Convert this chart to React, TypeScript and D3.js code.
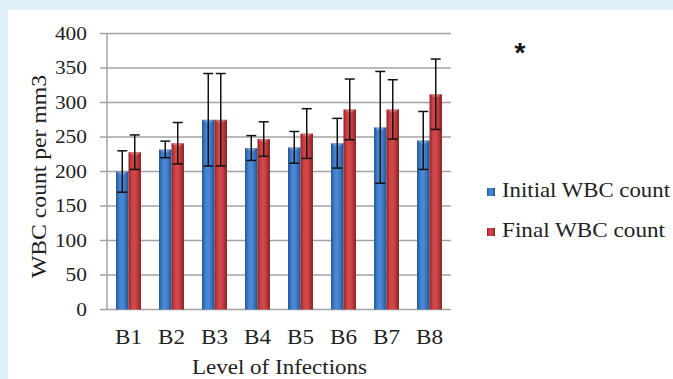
import React, { useEffect, useRef } from "react";
import * as d3 from "d3";

// values
const categories = ["B1", "B2", "B3", "B4", "B5", "B6", "B7", "B8"];
const initialWbc = [200, 232, 275, 234, 235, 241, 264, 245];
const initialErr = [30, 12, 67, 18, 23, 36, 81, 42];
const finalWbc = [228, 241, 275, 247, 255, 290, 290, 312];
const finalErr = [25, 30, 67, 25, 36, 44, 43, 51];
const yTicks = [0, 50, 100, 150, 200, 250, 300, 350, 400];
const seriesNames = ["Initial WBC count", "Final WBC count"];

const FONT = "'Liberation Serif', 'Times New Roman', serif";

export default function App() {
  const svgRef = useRef<SVGSVGElement>(null);

  useEffect(() => {
    const width = 673;
    const height = 379;
    const svg = d3.select(svgRef.current);
    svg.selectAll("*").remove();
    svg.attr("width", width).attr("height", height);

    const defs = svg.append("defs");
    const grad = (id: string, stops: string[]) => {
      const g = defs
        .append("linearGradient")
        .attr("id", id)
        .attr("x1", "0%")
        .attr("x2", "100%")
        .attr("y1", "0%")
        .attr("y2", "0%");
      stops.forEach((c, i) =>
        g
          .append("stop")
          .attr("offset", `${(i / (stops.length - 1)) * 100}%`)
          .attr("stop-color", c)
      );
    };
    grad("blueGrad", ["#24518f", "#3f7fcc", "#4a8bd6", "#3a74be", "#22508c"]);
    grad("redGrad", ["#8a2426", "#cc4044", "#d24a4c", "#b93739", "#822122"]);

    // page background
    svg.append("rect").attr("width", width).attr("height", height).attr("fill", "#dff0fb");
    svg
      .append("rect")
      .attr("x", 8)
      .attr("y", 10)
      .attr("width", width - 8)
      .attr("height", height - 10)
      .attr("fill", "#ffffff");

    const left = 107;
    const right = 451;
    const y = d3.scaleLinear().domain([0, 400]).range([309.5, 33.5]);
    const x0 = d3
      .scaleBand()
      .domain(categories)
      .range([left, right])
      .paddingInner(0.42)
      .paddingOuter(0.21);
    const x1 = d3
      .scaleBand()
      .domain(["initial", "final"])
      .range([0, x0.bandwidth()]);

    // gridlines
    svg
      .append("g")
      .selectAll("line")
      .data(yTicks)
      .join("line")
      .attr("x1", 100)
      .attr("x2", right)
      .attr("y1", (d) => y(d))
      .attr("y2", (d) => y(d))
      .attr("stroke", "#a3a3a3")
      .attr("stroke-width", 1.5);

    svg
      .append("line")
      .attr("x1", left)
      .attr("x2", left)
      .attr("y1", y(400))
      .attr("y2", y(0))
      .attr("stroke", "#a3a3a3")
      .attr("stroke-width", 1.5);

    // y tick labels
    svg
      .append("g")
      .selectAll("text")
      .data(yTicks)
      .join("text")
      .attr("x", 87)
      .attr("y", (d) => y(d) + 6)
      .attr("text-anchor", "end")
      .attr("font-family", FONT)
      .attr("font-size", 18)
      .attr("fill", "#222")
      .attr("textLength", (d) => String(d).length * 10.7)
      .attr("lengthAdjust", "spacingAndGlyphs")
      .text((d) => d);

    const rows = categories.map((c, i) => ({
      cat: c,
      bars: [
        { key: "initial", value: initialWbc[i], err: initialErr[i], fill: "url(#blueGrad)" },
        { key: "final", value: finalWbc[i], err: finalErr[i], fill: "url(#redGrad)" },
      ],
    }));

    const groups = svg
      .append("g")
      .selectAll("g")
      .data(rows)
      .join("g")
      .attr("transform", (d) => `translate(${x0(d.cat)},0)`);

    groups
      .selectAll("rect")
      .data((d) => d.bars)
      .join("rect")
      .attr("x", (d) => x1(d.key)!)
      .attr("width", x1.bandwidth())
      .attr("y", (d) => y(d.value))
      .attr("height", (d) => y(0) - y(d.value))
      .attr("fill", (d) => d.fill);

    // small lighter cap at top of each bar
    groups
      .selectAll("path.cap")
      .data((d) => d.bars)
      .join("path")
      .attr("class", "cap")
      .attr("d", (d) => {
        const bx = x1(d.key)!;
        const bw = x1.bandwidth();
        const ty = y(d.value);
        return `M${bx},${ty}L${bx + bw},${ty}L${bx + bw / 2},${ty + 4}Z`;
      })
      .attr("fill", "#ffffff")
      .attr("opacity", 0.25);

    // error bars
    const capW = 10;
    const eb = groups
      .selectAll("g.err")
      .data((d) => d.bars)
      .join("g")
      .attr("class", "err")
      .attr("stroke", "#111")
      .attr("stroke-width", 1.5);
    eb.append("line")
      .attr("x1", (d) => x1(d.key)! + x1.bandwidth() / 2)
      .attr("x2", (d) => x1(d.key)! + x1.bandwidth() / 2)
      .attr("y1", (d) => y(d.value + d.err))
      .attr("y2", (d) => y(d.value - d.err));
    [1, -1].forEach((s) =>
      eb
        .append("line")
        .attr("x1", (d) => x1(d.key)! + x1.bandwidth() / 2 - capW / 2)
        .attr("x2", (d) => x1(d.key)! + x1.bandwidth() / 2 + capW / 2)
        .attr("y1", (d) => y(d.value + s * d.err))
        .attr("y2", (d) => y(d.value + s * d.err))
    );

    // x labels
    svg
      .append("g")
      .selectAll("text")
      .data(categories)
      .join("text")
      .attr("x", (d) => x0(d)! + x0.bandwidth() / 2)
      .attr("y", 344)
      .attr("text-anchor", "middle")
      .attr("font-family", FONT)
      .attr("font-size", 21)
      .attr("fill", "#222")
      .attr("textLength", 27)
      .attr("lengthAdjust", "spacingAndGlyphs")
      .text((d) => d);

    svg
      .append("text")
      .attr("x", 279.5)
      .attr("y", 374)
      .attr("text-anchor", "middle")
      .attr("font-family", FONT)
      .attr("font-size", 20)
      .attr("fill", "#222")
      .attr("textLength", 175)
      .attr("lengthAdjust", "spacingAndGlyphs")
      .text("Level of Infections");

    svg
      .append("text")
      .attr("transform", "translate(46,176.5) rotate(-90)")
      .attr("text-anchor", "middle")
      .attr("font-family", FONT)
      .attr("font-size", 21)
      .attr("fill", "#222")
      .attr("textLength", 203)
      .attr("lengthAdjust", "spacingAndGlyphs")
      .text("WBC count per mm3");

    // legend
    const legend = svg
      .append("g")
      .selectAll("g")
      .data(seriesNames)
      .join("g")
      .attr("transform", (d, i) => `translate(487,${188 + i * 40})`);
    legend
      .append("rect")
      .attr("width", 8)
      .attr("height", 8)
      .attr("fill", (d, i) => (i === 0 ? "url(#blueGrad)" : "url(#redGrad)"));
    legend
      .append("text")
      .attr("x", 15)
      .attr("y", 8.5)
      .attr("font-family", FONT)
      .attr("font-size", 21)
      .attr("fill", "#222")
      .attr("textLength", (d, i) => (i === 0 ? 168 : 163))
      .attr("lengthAdjust", "spacingAndGlyphs")
      .text((d) => d);

    svg
      .append("text")
      .attr("x", 520)
      .attr("y", 62)
      .attr("text-anchor", "middle")
      .attr("font-family", "'Liberation Sans', Arial, sans-serif")
      .attr("font-weight", "bold")
      .attr("font-size", 28)
      .attr("fill", "#111")
      .text("*");
  }, []);

  return (
    <svg
      ref={svgRef}
      style={{ position: "absolute", left: 0, top: 0, display: "block" }}
    />
  );
}
